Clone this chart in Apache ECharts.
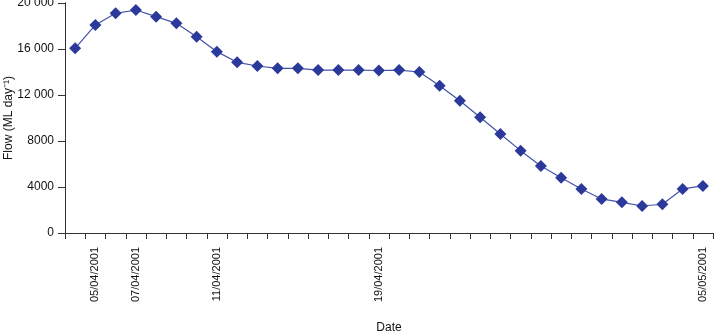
<!DOCTYPE html>
<html>
<head>
<meta charset="utf-8">
<script src="https://cdn.jsdelivr.net/npm/echarts@6/dist/echarts.min.js"></script>
<style>html,body{margin:0;padding:0;background:#fff}#c{width:715px;height:335px}</style>
</head>
<body>
<div id="c"></div>
<script>
var dates = ['04/04/2001','05/04/2001','06/04/2001','07/04/2001','08/04/2001','09/04/2001','10/04/2001','11/04/2001',
  '12/04/2001','13/04/2001','14/04/2001','15/04/2001','16/04/2001','17/04/2001','18/04/2001','19/04/2001',
  '20/04/2001','21/04/2001','22/04/2001','23/04/2001','24/04/2001','25/04/2001','26/04/2001','27/04/2001',
  '28/04/2001','29/04/2001','30/04/2001','01/05/2001','02/05/2001','03/05/2001','04/05/2001','05/05/2001'];
var flow = [16060,18090,19100,19390,18810,18230,17070,15770,14840,14520,14320,14320,14170,14170,14170,14130,
  14170,14000,12810,11500,10060,8610,7160,5830,4810,3830,2960,2670,2350,2500,3830,4090];
var shownLabels = ['05/04/2001','07/04/2001','11/04/2001','19/04/2001','05/05/2001'];
var yTicks = [0,4000,8000,12000,16000,20000];

function fmtY(v){ return v >= 10000 ? String(v).replace(/(\d+)(\d{3})$/, '$1 $2') : String(v); }

var chart = echarts.init(document.getElementById('c'));
chart.setOption({
  animation: false,
  textStyle: {fontFamily: 'Liberation Sans, Arial, sans-serif'},
  grid: {left: 65, right: 2, top: 3, bottom: 102, containLabel: false, outerBoundsMode: 'none'},
  xAxis: {
    type: 'category',
    data: dates,
    boundaryGap: true,
    name: 'Date',
    nameLocation: 'middle',
    nameGap: 89,
    nameMoveOverlap: false,
    nameTextStyle: {fontSize: 12, color: '#111'},
    axisLine: {show: true, lineStyle: {color: '#333', width: 1}},
    axisTick: {show: true, interval: 0, length: 6, lineStyle: {color: '#333', width: 1}},
    axisLabel: {
      interval: function(i, v){ return shownLabels.indexOf(v) >= 0; },
      rotate: 90, margin: 14, fontSize: 11, color: '#111'
    },
    splitLine: {show: false}
  },
  yAxis: [{
    type: 'value',
    position: 'left',
    min: yTicks[0], max: yTicks[yTicks.length-1], interval: 4000,
    name: 'Flow (ML day\u207B\u00B9)',
    nameLocation: 'middle',
    nameGap: 50,
    nameMoveOverlap: false,
    nameTextStyle: {fontSize: 12, color: '#111'},
    axisLine: {show: true, onZero: false, lineStyle: {color: '#333', width: 1}},
    axisTick: {show: true, length: 7, lineStyle: {color: '#333', width: 1}},
    axisLabel: {formatter: fmtY, fontSize: 12, color: '#111', margin: 11},
    splitLine: {show: false}
  }, {
    type: 'value',
    position: 'left',
    offset: 0,
    min: yTicks[0], max: yTicks[yTicks.length-1], interval: 4000,
    axisLine: {show: true, onZero: false, lineStyle: {color: '#333', width: 1}},
    axisTick: {show: true, length: 7, lineStyle: {color: '#333', width: 1}},
    axisLabel: {show: false},
    splitLine: {show: false}
  }],
  series: [{
    type: 'line',
    yAxisIndex: 0,
    data: flow,
    symbol: 'diamond',
    symbolSize: 12,
    itemStyle: {color: '#2B3A9A'},
    lineStyle: {color: '#4453AA', width: 1.2}
  }]
});
</script>
</body>
</html>
